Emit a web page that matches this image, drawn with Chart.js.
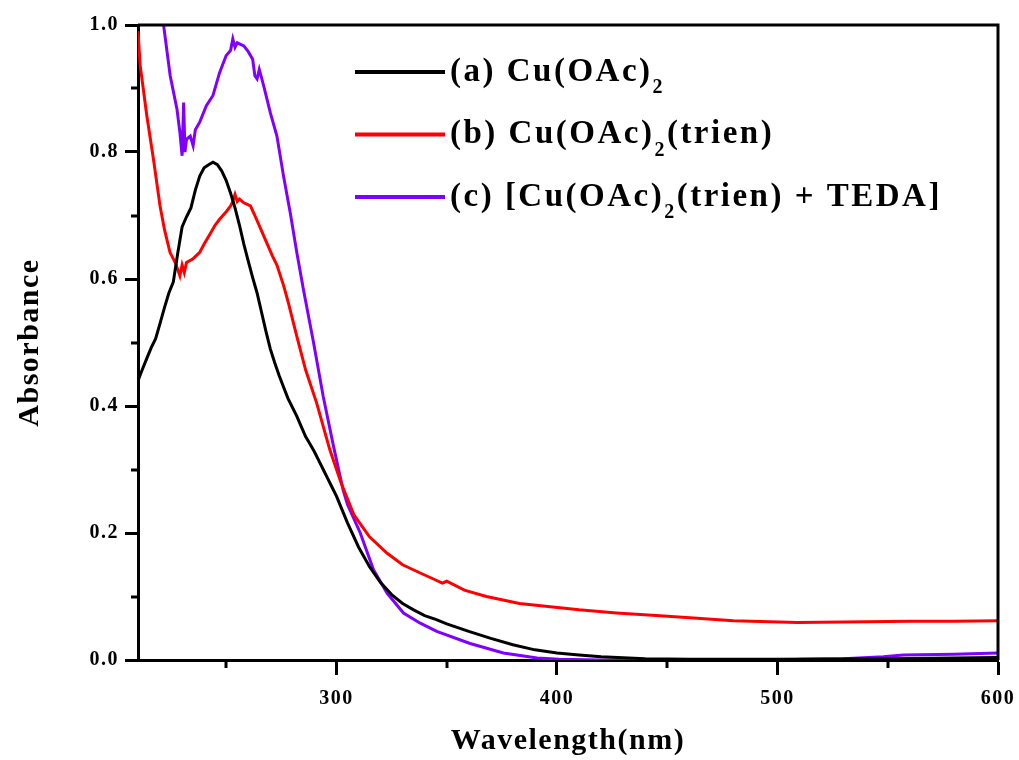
<!DOCTYPE html>
<html>
<head>
<meta charset="utf-8">
<title>UV-Vis absorbance</title>
<script src="https://cdn.jsdelivr.net/npm/chart.js@4"></script>
<style>
  html, body { margin: 0; padding: 0; background: #fff; }
  canvas { display: block; }
</style>
</head>
<body>
<canvas id="uvChart" width="1019" height="760"></canvas>
<script>
// (a) Cu(OAc)2
const wavelengthA = [210,212,214,216,218,220,222,224,226,228,230,232,234,236,238,240,242,244,246,248,250,252,254,256,258,260,262,264,266,268,270,272,274,276,278,280,282,284,286,288,290,292,294,296,298,300,305,310,315,320,325,330,335,340,345,350,360,370,380,390,400,410,420,440,460,500,550,600];
const absorbanceA = [0.440,0.458,0.475,0.492,0.506,0.530,0.555,0.578,0.595,0.640,0.682,0.698,0.712,0.740,0.762,0.775,0.780,0.784,0.780,0.770,0.755,0.735,0.712,0.685,0.655,0.628,0.602,0.578,0.548,0.518,0.490,0.468,0.448,0.430,0.412,0.398,0.384,0.368,0.352,0.340,0.328,0.314,0.300,0.286,0.272,0.258,0.216,0.178,0.147,0.122,0.103,0.089,0.079,0.070,0.064,0.057,0.045,0.034,0.024,0.016,0.011,0.008,0.005,0.002,0.001,0.001,0.002,0.004];

// (b) Cu(OAc)2(trien)
const wavelengthB = [210,211,214,217,220,222,224.5,227,229,230,231,232,235,238,240,243,245,247,250,252,253,254,255,256,258,261,263,265,268,271,273,276,278,282,286,291,297,302,308,315,323,330,338,345,348,350,358,368,383,397,410,427,445,462,480,509,530,560,580,600];
const absorbanceB = [0.990,0.936,0.857,0.789,0.715,0.678,0.642,0.625,0.605,0.622,0.610,0.626,0.632,0.642,0.655,0.673,0.685,0.694,0.706,0.715,0.722,0.733,0.722,0.726,0.720,0.715,0.700,0.684,0.660,0.636,0.622,0.590,0.565,0.510,0.457,0.405,0.331,0.280,0.228,0.194,0.168,0.150,0.137,0.126,0.121,0.124,0.110,0.100,0.089,0.084,0.079,0.074,0.070,0.066,0.062,0.059,0.060,0.061,0.061,0.062];

// (c) [Cu(OAc)2(trien) + TEDA]
const wavelengthC = [219,221.6,224.6,227.7,229,230,230.7,231.3,232,233.7,235,236,238,241,244,247,250,252,253,254,255,258,260,262,263,264,265,267,270,273,276,279,282,285,289.6,294,298.7,303,305,310.8,316.8,323,330.4,338,345.5,360.6,375.7,391,401,420,460,500,512,530,548,557,580,600];
const absorbanceC = [1.04,1.0,0.92,0.867,0.831,0.794,0.878,0.80,0.82,0.825,0.81,0.835,0.847,0.873,0.889,0.925,0.952,0.960,0.978,0.965,0.972,0.967,0.958,0.946,0.920,0.915,0.930,0.904,0.862,0.825,0.762,0.705,0.642,0.584,0.50,0.415,0.336,0.268,0.245,0.20,0.142,0.105,0.074,0.058,0.045,0.026,0.011,0.003,0.001,0.0,0.0,0.0,0.001,0.002,0.005,0.008,0.009,0.011];

const seriesLabels = ['(a) Cu(OAc)\u2082', '(b) Cu(OAc)\u2082(trien)', '(c) [Cu(OAc)\u2082(trien) + TEDA]'];
const seriesColors = ['#000000', '#ff0000', '#8000ff'];

const xTicks = [250, 300, 350, 400, 450, 500, 550, 600];
const yTicks = [0, 0.1, 0.2, 0.3, 0.4, 0.5, 0.6, 0.7, 0.8, 0.9, 1.0];

const FONT = '"Liberation Serif", "Times New Roman", serif';

const toPoints = (xs, ys) => xs.map((x, i) => ({ x, y: ys[i] }));

const isMajorX = v => v % 100 === 0;
const isMajorY = v => Math.round(v * 10) % 2 === 0;

// frame on top/right plus the short minor ticks
const framePlugin = {
  id: 'frame',
  beforeDraw(chart) {
    chart.ctx.letterSpacing = '1.5px';
  },
  afterDraw(chart) {
    const { ctx, chartArea: a } = chart;
    const xs = chart.scales.x, ys = chart.scales.y;
    ctx.save();
    ctx.strokeStyle = '#000';
    ctx.lineWidth = 3;
    ctx.beginPath();
    ctx.moveTo(a.left, a.top);
    ctx.lineTo(a.right, a.top);
    ctx.lineTo(a.right, a.bottom);
    ctx.stroke();

    xTicks.filter(v => !isMajorX(v)).forEach(v => {
      const px = Math.round(xs.getPixelForValue(v));
      ctx.beginPath();
      ctx.moveTo(px, a.bottom);
      ctx.lineTo(px, a.bottom + 8);
      ctx.stroke();
    });
    yTicks.filter(v => !isMajorY(v)).forEach(v => {
      const py = Math.round(ys.getPixelForValue(v));
      ctx.beginPath();
      ctx.moveTo(a.left, py);
      ctx.lineTo(a.left - 7, py);
      ctx.stroke();
    });
    ctx.restore();
  }
};

// legend with subscripted "2"
const legendPlugin = {
  id: 'subLegend',
  afterDraw(chart) {
    const ctx = chart.ctx;
    ctx.save();
    ctx.letterSpacing = '2.5px';
    chart.data.datasets.forEach((ds, i) => {
      const y = 72 + i * 62.5;
      ctx.strokeStyle = ds.borderColor;
      ctx.lineWidth = 4;
      ctx.beginPath();
      ctx.moveTo(355, y);
      ctx.lineTo(445, y);
      ctx.stroke();

      ctx.fillStyle = '#000';
      ctx.textBaseline = 'middle';
      ctx.textAlign = 'left';
      let x = 450;
      const parts = ds.label.split('\u2082');
      parts.forEach((part, j) => {
        ctx.font = 'bold 33px ' + FONT;
        ctx.fillText(part, x, y);
        x += ctx.measureText(part).width;
        if (j < parts.length - 1) {
          ctx.font = 'bold 20px ' + FONT;
          ctx.fillText('2', x, y + 16);
          x += ctx.measureText('2').width;
        }
      });
    });
    ctx.restore();
  }
};

new Chart(document.getElementById('uvChart'), {
  type: 'line',
  data: {
    datasets: [
      { label: seriesLabels[0], data: toPoints(wavelengthA, absorbanceA), borderColor: seriesColors[0] },
      { label: seriesLabels[1], data: toPoints(wavelengthB, absorbanceB), borderColor: seriesColors[1] },
      { label: seriesLabels[2], data: toPoints(wavelengthC, absorbanceC), borderColor: seriesColors[2] }
    ]
  },
  options: {
    responsive: false,
    animation: false,
    devicePixelRatio: 1,
    layout: { padding: { top: 25, right: 21, left: 0, bottom: 0 } },
    elements: {
      line: { borderWidth: 3, tension: 0 },
      point: { radius: 0 }
    },
    plugins: {
      legend: { display: false },
      tooltip: { enabled: false }
    },
    scales: {
      x: {
        type: 'linear',
        min: 210,
        max: 600,
        afterBuildTicks: scale => { scale.ticks = xTicks.map(value => ({ value })); },
        afterFit: scale => {
          scale.height = 100;
          scale.paddingLeft = 0;
          scale.paddingRight = 0;
        },
        border: { color: '#000', width: 3 },
        grid: {
          drawOnChartArea: false,
          tickLength: 15,
          tickWidth: 3,
          tickColor: c => (c.tick && isMajorX(c.tick.value)) ? '#000' : 'rgba(0,0,0,0)'
        },
        ticks: {
          autoSkip: false,
          maxRotation: 0,
          padding: 12,
          color: '#000',
          font: { family: FONT, size: 20, weight: 'bold' },
          callback: v => isMajorX(v) ? String(v) : ''
        },
        title: {
          display: true,
          text: 'Wavelength(nm)',
          color: '#000',
          font: { family: FONT, size: 30, weight: 'bold' },
          padding: { top: 0, bottom: 1 }
        }
      },
      y: {
        min: 0,
        max: 1,
        afterBuildTicks: scale => { scale.ticks = yTicks.map(value => ({ value })); },
        afterFit: scale => {
          scale.width = 138;
          scale.paddingTop = 0;
          scale.paddingBottom = 0;
        },
        border: { color: '#000', width: 3 },
        grid: {
          drawOnChartArea: false,
          tickLength: 13,
          tickWidth: 3,
          tickColor: c => (c.tick && isMajorY(c.tick.value)) ? '#000' : 'rgba(0,0,0,0)'
        },
        ticks: {
          padding: 6,
          color: '#000',
          font: { family: FONT, size: 20, weight: 'bold' },
          callback: v => isMajorY(v) ? v.toFixed(1) : ''
        },
        title: {
          display: true,
          text: 'Absorbance',
          color: '#000',
          font: { family: FONT, size: 30, weight: 'bold' },
          padding: { top: 12, bottom: 0 }
        }
      }
    }
  },
  plugins: [framePlugin, legendPlugin]
});
</script>
</body>
</html>
